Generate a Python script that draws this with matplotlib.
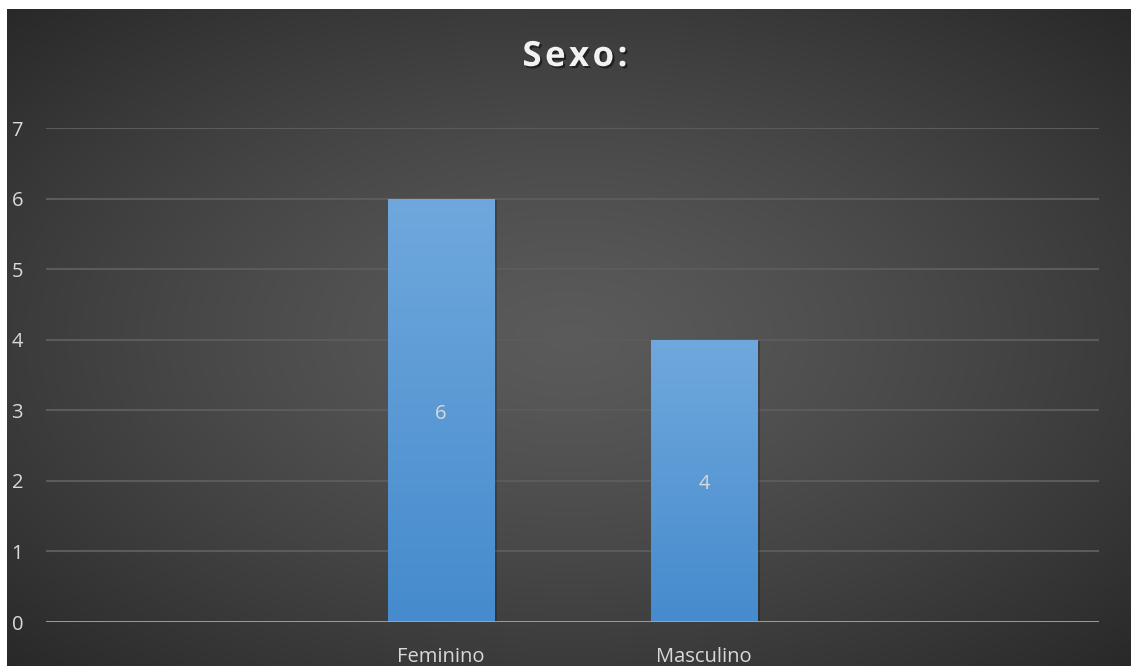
import numpy as np
import matplotlib
matplotlib.use("Agg")
import matplotlib.pyplot as plt
import matplotlib.patheffects as pe

plt.rcParams["font.family"] = ["Open Sans", "DejaVu Sans"]

categories = ["", "Feminino", "Masculino", ""]
values = [0, 6, 4, 0]
bar_idx = [1, 2]
yticks = [0, 1, 2, 3, 4, 5, 6, 7]
title = "Sexo:"

W, H = 1131, 666
fig = plt.figure(figsize=(W / 100, H / 100), dpi=100, facecolor="white")

# dark background panel with radial glow
bg = fig.add_axes([7 / W, 0, 1 - 7 / W, (H - 9) / H])
bg.set_axis_off()
yy, xx = np.mgrid[0:1:300j, 0:1:500j]
r = np.sqrt(((xx - 0.5) / 0.75) ** 2 + ((yy - 0.5) / 0.75) ** 2)
r = np.clip(r / 0.94, 0, 1)
shade = 0.355 - (0.355 - 0.16) * r ** 1.3
bg.imshow(np.dstack([shade] * 3), aspect="auto", extent=[0, 1, 0, 1])
bg.set_xlim(0, 1)
bg.set_ylim(0, 1)

ax = fig.add_axes([46 / W, (H - 622) / H, (1099 - 46) / W, (622 - 128) / H])
ax.patch.set_alpha(0)
ax.set_xlim(-0.5, len(categories) - 0.5)
ax.set_ylim(0, 7)

for t in yticks[1:]:
    ax.axhline(t, color="#5b5b5b", lw=1.5, zorder=1)
ax.axhline(0, color="#a6a6a6", lw=2, zorder=4)

grad = np.linspace(0, 1, 256).reshape(-1, 1)
top = np.array([0x70, 0xa8, 0xdd]) / 255
bot = np.array([0x45, 0x8b, 0xcd]) / 255
gimg = top * (1 - grad)[..., None] + bot * grad[..., None]
gimg = gimg.reshape(256, 1, 3)

bw = 0.405
for i in bar_idx:
    v = values[i]
    bar = ax.bar(i, v, width=bw, color=bot, zorder=2,
                 path_effects=[pe.SimplePatchShadow(offset=(2, -1), shadow_rgbFace="black", alpha=0.2),
                               pe.Normal()])[0]
    im = ax.imshow(gimg, extent=[i - bw / 2, i + bw / 2, 0, v], aspect="auto", zorder=3)
    im.set_clip_path(bar)
    ax.annotate(str(v), (i, v / 2), xytext=(0, -2.5), textcoords="offset points",
                ha="center", va="center", color="#d9d9d9", fontsize=14.5, zorder=5)

ax.set_xticks(range(len(categories)))
ax.set_xticklabels(categories)
ax.set_yticks(yticks)
ax.tick_params(axis="x", length=0, pad=18, labelsize=14.5, labelcolor="#d9d9d9")
ax.tick_params(axis="y", length=0, pad=16.5, labelsize=14.5, labelcolor="#d9d9d9")
for s in ax.spines.values():
    s.set_visible(False)

fig.text(575 / W, 1 - 57 / H, "\u200a".join(title), ha="center", va="center", color="#f2f2f2",
         fontsize=25, fontweight="bold",
         path_effects=[pe.withSimplePatchShadow(offset=(1.5, -1.5), shadow_rgbFace="black", alpha=0.5)])

fig.savefig("out.png", dpi=100, facecolor="white")
